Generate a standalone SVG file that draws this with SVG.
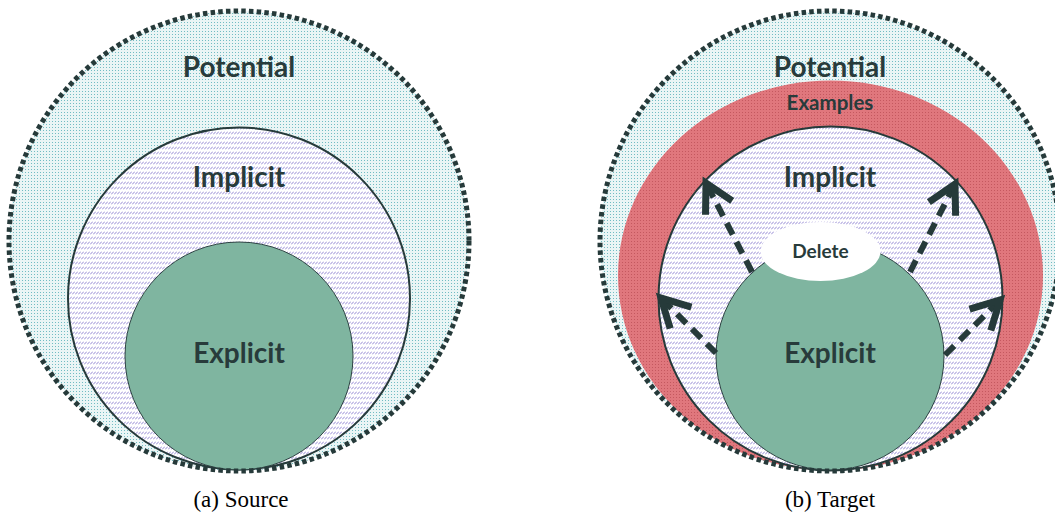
<svg xmlns="http://www.w3.org/2000/svg" width="1055" height="513" viewBox="0 0 1055 513">
  <style>
    .lbl { font-family: Lato, "Liberation Sans", sans-serif; font-weight: 700; fill: #283b3b; text-anchor: middle; }
    .big { font-size: 28px; }
    .mid { font-size: 20.5px; }
    .sml { font-size: 19px; }
    .cap { font-family: "Liberation Serif", serif; font-size: 23px; fill: #000; text-anchor: middle; }
    .pot { fill: url(#potDots); }
    .ring { fill: none; stroke: #263a3a; stroke-width: 5; stroke-dasharray: 4.5 3.2; }
    .imp { fill: url(#hatch); stroke: #263a3a; stroke-width: 2; }
    .exp { fill: #7fb5a0; stroke: #2f4444; stroke-width: 1; }
    .ex { fill: url(#redDots); }
    .arrow { fill: none; stroke: #263a3a; stroke-width: 6; stroke-dasharray: 13 8; marker-end: url(#head); }
  </style>
  <defs>
    <pattern id="potDots" width="3" height="3" patternUnits="userSpaceOnUse">
      <rect width="3" height="3" fill="#eaf5f5"/>
      <rect x="1" y="1" width="1" height="1" fill="#72bcc3"/>
    </pattern>
    <pattern id="hatch" width="3" height="5" patternUnits="userSpaceOnUse">
      <rect width="3" height="5" fill="#ffffff"/>
      <line x1="0.3" y1="4" x2="2.7" y2="2" stroke="#8f82d2" stroke-width="1"/>
    </pattern>
    <pattern id="redDots" width="3" height="3" patternUnits="userSpaceOnUse">
      <rect width="3" height="3" fill="#e0777d"/>
      <rect x="1" y="1" width="1" height="1" fill="#c4585f"/>
    </pattern>
    <marker id="head" markerUnits="userSpaceOnUse" orient="auto" refX="0" refY="0" markerWidth="60" markerHeight="60" viewBox="-40 -30 60 60" overflow="visible">
      <path d="M -28,-15 L 0,0 L -28,15" fill="none" stroke="#263a3a" stroke-width="7" stroke-linejoin="miter"/>
    </marker>
  </defs>

  <!-- (a) Source -->
  <g id="source-potential">
    <circle class="pot" cx="239" cy="241" r="230"/>
  </g>
  <g id="source-implicit">
    <circle class="imp" cx="239" cy="298.5" r="171"/>
  </g>
  <g id="source-explicit">
    <circle class="exp" cx="239" cy="356" r="114"/>
  </g>
  <g id="source-potential-ring">
    <circle class="ring" cx="239" cy="241" r="230"/>
  </g>
  <g id="source-labels">
    <text class="lbl big" x="239" y="77">Potential</text>
    <text class="lbl big" x="239" y="187">Implicit</text>
    <text class="lbl big" x="239" y="363">Explicit</text>
  </g>
  <text class="cap" x="241" y="507">(a) Source</text>

  <!-- (b) Target -->
  <g id="target-potential">
    <circle class="pot" cx="830" cy="241" r="230"/>
  </g>
  <g id="target-examples">
    <ellipse class="ex" cx="830.5" cy="275.5" rx="212.5" ry="195"/>
  </g>
  <g id="target-implicit">
    <circle class="imp" cx="830.5" cy="298.5" r="172"/>
  </g>
  <g id="target-explicit">
    <circle class="exp" cx="830" cy="356" r="114"/>
  </g>
  <g id="target-delete">
    <ellipse cx="820.5" cy="251.5" rx="60" ry="29.5" fill="#ffffff"/>
    <text class="lbl sml" x="820.5" y="258">Delete</text>
  </g>
  <g id="target-potential-ring">
    <circle class="ring" cx="830" cy="241" r="230"/>
  </g>
  <g id="connectors">
    <path class="arrow" d="M 752,272 L 706,183"/>
    <path class="arrow" d="M 910,272 L 955,184"/>
    <path class="arrow" d="M 716,353 L 661,298"/>
    <path class="arrow" d="M 945,355 L 1000,300"/>
  </g>
  <g id="target-labels">
    <text class="lbl big" x="830" y="77">Potential</text>
    <text class="lbl mid" x="830" y="110">Examples</text>
    <text class="lbl big" x="830" y="187">Implicit</text>
    <text class="lbl big" x="830" y="363">Explicit</text>
  </g>
  <text class="cap" x="830" y="507">(b) Target</text>
</svg>
